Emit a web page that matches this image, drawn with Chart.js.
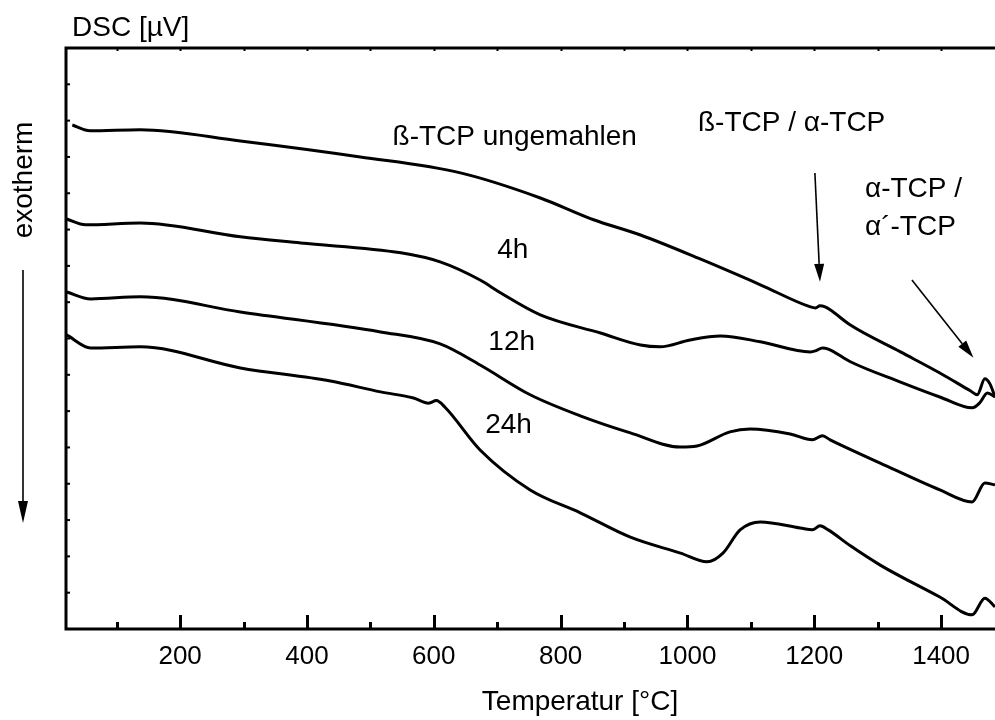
<!DOCTYPE html>
<html>
<head>
<meta charset="utf-8">
<script src="https://cdn.jsdelivr.net/npm/chart.js@4"></script>
<style>
  body { margin: 0; background: #fff; }
  canvas { display: block; }
</style>
</head>
<body>
<canvas id="dscChart" width="995" height="720"></canvas>
<script>
// DSC curves, temperature [°C] vs. signal (arbitrary units, axis has no labels)
const temps1 = [30, 58, 137, 295, 484, 642, 768, 852, 926, 1020, 1115, 1194, 1202, 1209, 1217, 1225, 1257, 1336, 1398, 1446, 1457, 1469, 1477, 1485];
const dsc1 = [13.88, 13.72, 13.75, 13.44, 13.00, 12.56, 11.87, 11.27, 10.85, 10.19, 9.48, 8.87, 8.84, 8.90, 8.87, 8.79, 8.37, 7.63, 7.05, 6.56, 6.45, 6.89, 6.75, 6.39];

const temps2 = [21, 51, 137, 295, 390, 548, 610, 673, 705, 768, 863, 926, 957, 1004, 1052, 1115, 1194, 1202, 1213, 1222, 1257, 1336, 1398, 1449, 1461, 1473, 1485];
const dsc2 = [11.29, 11.13, 11.18, 10.80, 10.63, 10.36, 10.11, 9.61, 9.26, 8.65, 8.15, 7.82, 7.77, 7.96, 8.07, 7.91, 7.63, 7.66, 7.74, 7.71, 7.36, 6.80, 6.39, 6.09, 6.23, 6.50, 6.39];

const temps3 = [21, 59, 137, 295, 516, 610, 673, 752, 831, 910, 989, 1015, 1067, 1099, 1162, 1197, 1213, 1225, 1304, 1398, 1449, 1469, 1485];
const dsc3 = [9.28, 9.09, 9.15, 8.73, 8.18, 7.85, 7.27, 6.45, 5.87, 5.40, 5.01, 5.04, 5.43, 5.51, 5.37, 5.21, 5.32, 5.21, 4.57, 3.83, 3.50, 4.02, 3.97];

const temps4 = [21, 59, 137, 295, 437, 516, 568, 592, 604, 618, 673, 752, 831, 910, 989, 1031, 1056, 1083, 1115, 1178, 1197, 1209, 1222, 1257, 1304, 1398, 1449, 1469, 1485];
const dsc4 = [8.10, 7.74, 7.77, 7.19, 6.83, 6.53, 6.36, 6.22, 6.29, 6.10, 4.93, 3.83, 3.20, 2.53, 2.09, 1.85, 2.09, 2.73, 2.95, 2.78, 2.73, 2.84, 2.73, 2.29, 1.76, 0.88, 0.39, 0.85, 0.61];

const seriesNames = ['ß-TCP ungemahlen', '4h', '12h', '24h'];

// x axis ticks
const tempMin = 20;
const tempMax = 1485;
const tempStep = 100;
const tempLabelStep = 200;

// text notes inside the plot
const noteTexts = ['ß-TCP ungemahlen', 'ß-TCP / α-TCP', 'α-TCP /', 'α´-TCP', '4h', '12h', '24h'];
const noteT = [535, 1312, 1280, 1280, 700, 686, 681];
const noteV = [13.33, 13.72, 11.90, 10.85, 10.22, 7.69, 5.40];
const noteAlign = ['left', 'right', 'left', 'left', 'left', 'left', 'left'];

// arrows pointing at the transitions
const arrowFromT = [1201, 1354];
const arrowFromV = [12.56, 9.61];
const arrowToT = [1209, 1451];
const arrowToV = [9.56, 7.47];

const FONT = "'Liberation Sans', Arial, sans-serif";

function toPoints(xs, ys) {
    return xs.map(function (t, i) { return { x: t, y: ys[i] }; });
}

function arrow(ctx, x1, y1, x2, y2, headLen, headHalf) {
    const ang = Math.atan2(y2 - y1, x2 - x1);
    const bx = x2 - headLen * Math.cos(ang);
    const by = y2 - headLen * Math.sin(ang);
    ctx.beginPath();
    ctx.moveTo(x1, y1);
    ctx.lineTo(bx, by);
    ctx.stroke();
    ctx.beginPath();
    ctx.moveTo(x2, y2);
    ctx.lineTo(bx + headHalf * Math.sin(ang), by - headHalf * Math.cos(ang));
    ctx.lineTo(bx - headHalf * Math.sin(ang), by + headHalf * Math.cos(ang));
    ctx.closePath();
    ctx.fill();
}

const decorations = {
    id: 'decorations',
    afterDraw: function (chart) {
        const ctx = chart.ctx;
        const a = chart.chartArea;
        const xs = chart.scales.x;
        const ys = chart.scales.y;
        ctx.save();
        ctx.strokeStyle = '#000';
        ctx.fillStyle = '#000';
        ctx.lineCap = 'butt';

        // frame (left, top, bottom)
        ctx.lineWidth = 3;
        ctx.beginPath();
        ctx.moveTo(a.right + 2, a.top);
        ctx.lineTo(a.left, a.top);
        ctx.lineTo(a.left, a.bottom);
        ctx.lineTo(a.right + 2, a.bottom);
        ctx.stroke();

        // inward ticks on x
        xs.ticks.forEach(function (t) {
            if (t.value % tempStep !== 0) return;
            const px = Math.round(xs.getPixelForValue(t.value)) + 0.5;
            const major = t.value % tempLabelStep === 0;
            ctx.lineWidth = 3;
            ctx.beginPath();
            ctx.moveTo(px, a.bottom);
            ctx.lineTo(px, a.bottom - (major ? 14 : 7));
            ctx.stroke();
            ctx.lineWidth = 2;
            ctx.beginPath();
            ctx.moveTo(px, a.top);
            ctx.lineTo(px, a.top + 3);
            ctx.stroke();
        });

        // inward ticks on y
        ctx.lineWidth = 2;
        ys.ticks.forEach(function (t) {
            const py = ys.getPixelForValue(t.value);
            ctx.beginPath();
            ctx.moveTo(a.left, py);
            ctx.lineTo(a.left + 4, py);
            ctx.stroke();
        });

        // notes
        ctx.font = '28px ' + FONT;
        ctx.textBaseline = 'alphabetic';
        noteTexts.forEach(function (txt, i) {
            ctx.textAlign = noteAlign[i];
            ctx.fillText(txt, xs.getPixelForValue(noteT[i]), ys.getPixelForValue(noteV[i]));
        });

        // arrows
        ctx.lineWidth = 1.6;
        for (let i = 0; i < arrowFromT.length; i++) {
            arrow(ctx,
                xs.getPixelForValue(arrowFromT[i]), ys.getPixelForValue(arrowFromV[i]),
                xs.getPixelForValue(arrowToT[i]), ys.getPixelForValue(arrowToV[i]), 18, 5);
        }

        // axis titles
        ctx.textAlign = 'left';
        ctx.fillText('DSC [µV]', 72, 36);
        ctx.textAlign = 'center';
        ctx.fillText('Temperatur [°C]', 580, 710);

        ctx.save();
        ctx.translate(32, 180);
        ctx.rotate(-Math.PI / 2);
        ctx.textAlign = 'center';
        ctx.fillText('exotherm', 0, 0);
        ctx.restore();

        ctx.lineWidth = 1.6;
        arrow(ctx, 23, 270, 23, 523, 22, 5);

        ctx.restore();
    }
};

const lineStyle = {
    borderColor: '#000',
    borderWidth: 3,
    pointRadius: 0,
    fill: false,
    cubicInterpolationMode: 'monotone'
};

new Chart(document.getElementById('dscChart').getContext('2d'), {
    type: 'line',
    data: {
        datasets: [
            Object.assign({ label: seriesNames[0], data: toPoints(temps1, dsc1) }, lineStyle),
            Object.assign({ label: seriesNames[1], data: toPoints(temps2, dsc2) }, lineStyle),
            Object.assign({ label: seriesNames[2], data: toPoints(temps3, dsc3) }, lineStyle),
            Object.assign({ label: seriesNames[3], data: toPoints(temps4, dsc4) }, lineStyle)
        ]
    },
    options: {
        responsive: false,
        animation: false,
        devicePixelRatio: 1,
        layout: { padding: { top: 48, right: 0, left: 0, bottom: 0 } },
        plugins: {
            legend: { display: false },
            title: { display: false },
            tooltip: { enabled: false }
        },
        scales: {
            x: {
                type: 'linear',
                min: tempMin,
                max: tempMax,
                grid: { display: false, drawTicks: false },
                border: { display: false },
                ticks: {
                    stepSize: tempStep,
                    includeBounds: false,
                    autoSkip: false,
                    maxRotation: 0,
                    padding: 12,
                    color: '#000',
                    font: { family: FONT, size: 26 },
                    callback: function (value) {
                        return value % tempLabelStep === 0 ? String(value) : '';
                    }
                },
                afterFit: function (scale) { scale.height = 91; }
            },
            y: {
                type: 'linear',
                min: 0,
                max: 16,
                grid: { display: false, drawTicks: false },
                border: { display: false },
                ticks: { stepSize: 1, display: false },
                afterFit: function (scale) { scale.width = 66; }
            }
        }
    },
    plugins: [decorations]
});
</script>
</body>
</html>
